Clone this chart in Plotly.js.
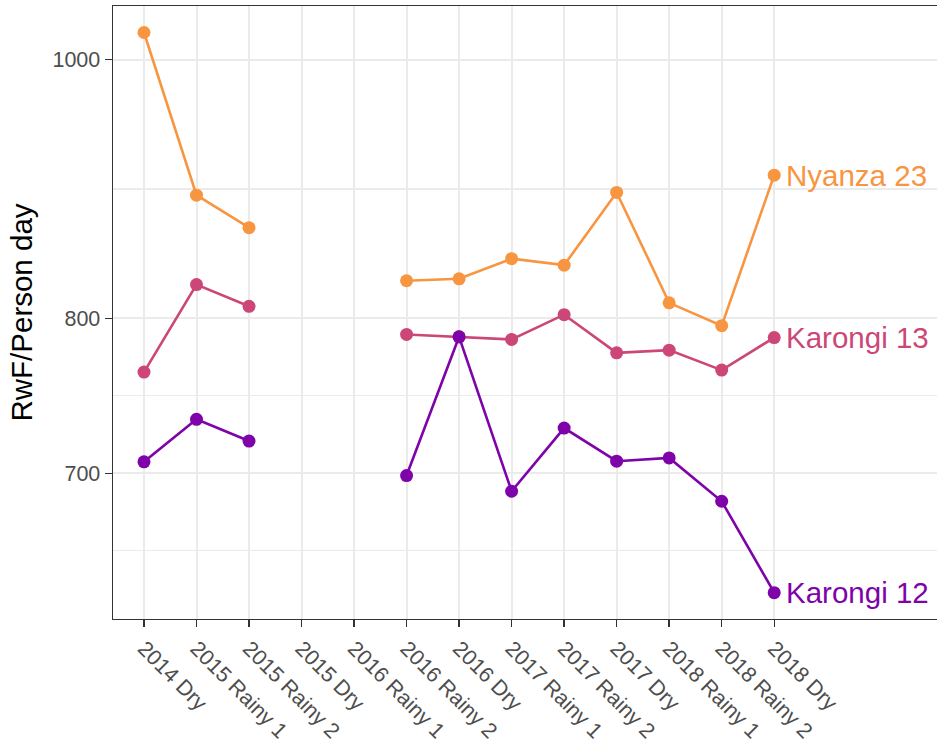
<!DOCTYPE html>
<html>
<head>
<meta charset="utf-8">
<script src="https://cdn.plot.ly/plotly-3.0.1.min.js"></script>
<style>html,body{margin:0;padding:0;background:#fff;}#chart{width:937px;height:745px;}</style>
</head>
<body>
<div id="chart"></div>
<script>
const seasons = ["2014 Dry","2015 Rainy 1","2015 Rainy 2","2015 Dry","2016 Rainy 1","2016 Rainy 2","2016 Dry","2017 Rainy 1","2017 Rainy 2","2017 Dry","2018 Rainy 1","2018 Rainy 2","2018 Dry"];
const nyanza23  = [1023.7, 889.7, 865.1, null, null, 826.4, 827.8, 842.3, 837.6, 891.8, 810.8, 795.0, 905.2];
const karongi13 = [763.8, 823.7, 808.4, null, null, 789.0, 787.4, 785.6, 802.6, 776.6, 778.4, 765.1, 786.9];
const karongi12 = [706.9, 733.3, 719.7, null, null, 698.6, 787.4, 689.2, 727.8, 707.3, 709.3, 683.3, 631.5];
const seriesNames = ["Nyanza 23", "Karongi 13", "Karongi 12"];
const seriesColors = ["#F89540", "#CC4778", "#7E03A8"];
const yTickVals = [700, 800, 1000];
const yMinorVals = [654.8, 748.3, 894.4];

const seriesData = [nyanza23, karongi13, karongi12];
const font = "Liberation Sans, Arial, Helvetica, sans-serif";

const traces = seriesData.map((d, i) => ({
  x: seasons, y: d, type: "scatter", mode: "lines+markers",
  name: seriesNames[i], connectgaps: false,
  line: {color: seriesColors[i], width: 2.6},
  marker: {color: seriesColors[i], size: 13},
  hoverinfo: "x+y+name"
}));

const annotations = seriesData.map((d, i) => ({
  x: seasons[seasons.length - 1], y: Math.log10(d[d.length - 1]),
  xref: "x", yref: "y", text: seriesNames[i], showarrow: false,
  xanchor: "left", yanchor: "middle", xshift: 10,
  font: {family: font, size: 29.5, color: seriesColors[i]}
}));

const layout = {
  width: 937, height: 745,
  margin: {l: 113, r: 0, t: 6, b: 126},
  paper_bgcolor: "#ffffff", plot_bgcolor: "#ffffff",
  showlegend: false,
  font: {family: font},
  xaxis: {
    type: "category", categoryorder: "array", categoryarray: seasons,
    range: [-0.59, 15.1],
    tickangle: 45,
    tickfont: {family: font, size: 21.5, color: "#4D4D4D"},
    ticks: "outside", ticklen: 7, tickwidth: 1.4, tickcolor: "#333333",
    showgrid: true, gridcolor: "#EBEBEB", gridwidth: 2,
    showline: true, linecolor: "#333333", linewidth: 1.4, mirror: true,
    zeroline: false, fixedrange: true
  },
  yaxis: {
    type: "log",
    range: [2.7905, 3.0201],
    tickmode: "array", tickvals: yTickVals, ticktext: yTickVals.map(String),
    tickfont: {family: font, size: 21.5, color: "#4D4D4D"},
    ticks: "outside", ticklen: 7, tickwidth: 1.4, tickcolor: "#333333",
    showgrid: true, gridcolor: "#EBEBEB", gridwidth: 2,
    minor: {tickmode: "array", tickvals: yMinorVals, showgrid: true, gridcolor: "#EBEBEB", gridwidth: 1.2, ticks: ""},
    showline: true, linecolor: "#333333", linewidth: 1.4, mirror: true,
    zeroline: false,
    title: {text: "RwF/Person day", font: {family: font, size: 29.5, color: "#000000"}, standoff: 11},
    fixedrange: true
  },
  annotations: annotations
};

Plotly.newPlot("chart", traces, layout, {displayModeBar: false, staticPlot: true});
</script>
</body>
</html>
